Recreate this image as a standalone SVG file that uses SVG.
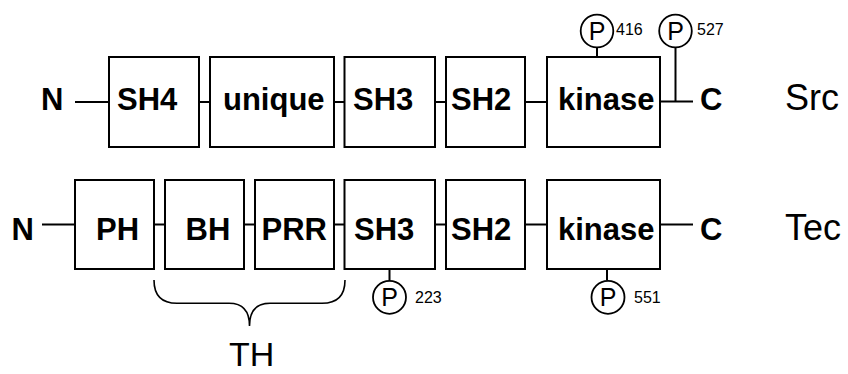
<svg xmlns="http://www.w3.org/2000/svg" width="848" height="374" viewBox="0 0 848 374">
<style>
.box{fill:#fff;stroke:#000;stroke-width:2}
.ln{fill:none;stroke:#000;stroke-width:2}
.br{fill:none;stroke:#000;stroke-width:1.6}
.lbl{font-family:"Liberation Sans",Arial,sans-serif;font-weight:bold;font-size:31px;fill:#000}
.name{font-family:"Liberation Sans",Arial,sans-serif;font-size:36px;fill:#000}
.pc{fill:#fff;stroke:#000;stroke-width:1.8}
.pt{font-family:"Liberation Sans",Arial,sans-serif;font-size:25px;fill:#000;text-anchor:middle}
.num{font-family:"Liberation Sans",Arial,sans-serif;font-size:16px;fill:#000}
</style>
<rect width="848" height="374" fill="#fff"/>
<g id="connectors">
<line class="ln" x1="75" y1="102" x2="109" y2="102"/>
<line class="ln" x1="199" y1="102" x2="210" y2="102"/>
<line class="ln" x1="334" y1="102" x2="344" y2="102"/>
<line class="ln" x1="435" y1="102" x2="446" y2="102"/>
<line class="ln" x1="525" y1="102" x2="547" y2="102"/>
<line class="ln" x1="660" y1="101.5" x2="693" y2="101.5"/>
<line class="ln" x1="597" y1="47" x2="597" y2="57"/>
<line class="ln" x1="675.5" y1="47" x2="675.5" y2="101.5"/>
<line class="ln" x1="42" y1="224.5" x2="75" y2="224.5"/>
<line class="ln" x1="154" y1="224.5" x2="165" y2="224.5"/>
<line class="ln" x1="244" y1="224.5" x2="255" y2="224.5"/>
<line class="ln" x1="334" y1="224.5" x2="344" y2="224.5"/>
<line class="ln" x1="435" y1="224.5" x2="446" y2="224.5"/>
<line class="ln" x1="525" y1="224.5" x2="547" y2="224.5"/>
<line class="ln" x1="660" y1="224.5" x2="693" y2="224.5"/>
<line class="ln" x1="389.5" y1="269" x2="389.5" y2="280.5"/>
<line class="ln" x1="607" y1="269" x2="607" y2="280.5"/>
</g>
<g id="src-N"><text class="lbl" x="41" y="110">N</text></g>
<g id="src-SH4"><rect class="box" x="109" y="57" width="90" height="90"/><text class="lbl" x="117" y="110">SH4</text></g>
<g id="src-unique"><rect class="box" x="210" y="57" width="124" height="90"/><text class="lbl" x="223" y="110">unique</text></g>
<g id="src-SH3"><rect class="box" x="344.5" y="57" width="90.5" height="90"/><text class="lbl" x="353" y="110">SH3</text></g>
<g id="src-SH2"><rect class="box" x="446" y="57" width="79" height="90"/><text class="lbl" x="451" y="110">SH2</text></g>
<g id="src-kinase"><rect class="box" x="547" y="57" width="113" height="90"/><text class="lbl" x="558" y="110">kinase</text></g>
<g id="src-C"><text class="lbl" x="700" y="110">C</text></g>
<g id="src-name"><text class="name" x="785" y="110">Src</text></g>
<g id="p416"><circle class="pc" cx="597" cy="31" r="16.3"/><text class="pt" x="597" y="40">P</text><text class="num" x="616" y="35">416</text></g>
<g id="p527"><circle class="pc" cx="675.5" cy="31" r="16.3"/><text class="pt" x="675.5" y="40">P</text><text class="num" x="697" y="35">527</text></g>
<g id="tec-N"><text class="lbl" x="11.5" y="239.5">N</text></g>
<g id="tec-PH"><rect class="box" x="75" y="180" width="79" height="89"/><text class="lbl" x="96" y="239.5">PH</text></g>
<g id="tec-BH"><rect class="box" x="165" y="180" width="79" height="89"/><text class="lbl" x="185.5" y="239.5">BH</text></g>
<g id="tec-PRR"><rect class="box" x="255" y="180" width="79" height="89"/><text class="lbl" x="261.5" y="239.5">PRR</text></g>
<g id="tec-SH3"><rect class="box" x="344.5" y="180" width="90.5" height="89"/><text class="lbl" x="354" y="239.5">SH3</text></g>
<g id="tec-SH2"><rect class="box" x="446" y="180" width="79" height="89"/><text class="lbl" x="451" y="239.5">SH2</text></g>
<g id="tec-kinase"><rect class="box" x="547" y="180" width="113" height="89"/><text class="lbl" x="558" y="239.5">kinase</text></g>
<g id="tec-C"><text class="lbl" x="700" y="239.5">C</text></g>
<g id="tec-name"><text class="name" x="785" y="239.5">Tec</text></g>
<g id="p223"><circle class="pc" cx="389.5" cy="297.3" r="16.5"/><text class="pt" x="389.5" y="306.3">P</text><text class="num" x="415" y="303">223</text></g>
<g id="p551"><circle class="pc" cx="608" cy="297.3" r="16.5"/><text class="pt" x="608" y="306.3">P</text><text class="num" x="634" y="303">551</text></g>
<g id="TH">
<path class="br" d="M154,280 Q154,303.3 177,303.3 L229,303.3 Q249.5,303.3 249.5,326 Q249.5,303.3 270,303.3 L322,303.3 Q345,303.3 345,280"/>
<text class="name" x="229" y="366" style="font-size:34px">TH</text>
</g>
</svg>
